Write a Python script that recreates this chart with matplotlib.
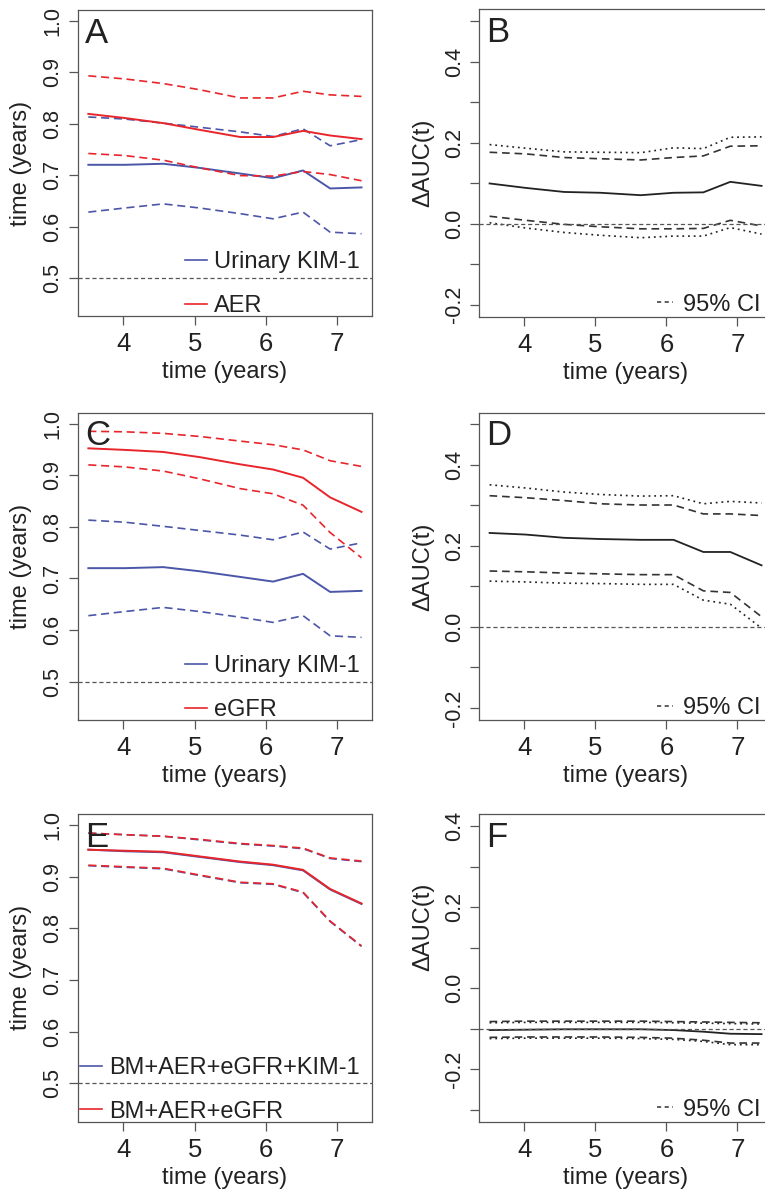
"""time-dependent AUC curves, biomarkers vs KIM-1"""

import matplotlib
matplotlib.use("Agg")
from matplotlib import pyplot as plt
from matplotlib.lines import Line2D

plt.rcParams['font.family'] = ['Liberation Sans', 'DejaVu Sans']
plt.rcParams['lines.scale_dashes'] = False

# tiempos de evaluacion (anios)
t = [3.51, 4.02, 4.56, 5.07, 5.64, 6.10, 6.52, 6.90, 7.34]

# AUC(t) de cada marcador con su IC 95%
kim1_auc = [0.720, 0.720, 0.722, 0.714, 0.703, 0.694, 0.709, 0.674, 0.676]
kim1_hi = [0.813, 0.809, 0.801, 0.793, 0.784, 0.775, 0.790, 0.757, 0.769]
kim1_lo = [0.628, 0.636, 0.644, 0.636, 0.625, 0.615, 0.628, 0.589, 0.586]

aer_auc = [0.819, 0.811, 0.801, 0.788, 0.774, 0.774, 0.786, 0.777, 0.770]
aer_hi = [0.893, 0.887, 0.878, 0.866, 0.850, 0.850, 0.863, 0.856, 0.853]
aer_lo = [0.742, 0.738, 0.729, 0.714, 0.699, 0.698, 0.707, 0.701, 0.689]

egfr_auc = [0.952, 0.949, 0.945, 0.935, 0.921, 0.911, 0.895, 0.857, 0.829]
egfr_hi = [0.985, 0.984, 0.981, 0.975, 0.966, 0.959, 0.949, 0.928, 0.917]
egfr_lo = [0.920, 0.916, 0.908, 0.893, 0.874, 0.864, 0.842, 0.789, 0.740]

full_auc = [0.952, 0.949, 0.947, 0.938, 0.928, 0.922, 0.912, 0.875, 0.847]
full_hi = [0.984, 0.981, 0.978, 0.971, 0.963, 0.959, 0.954, 0.935, 0.929]
full_lo = [0.921, 0.918, 0.915, 0.902, 0.888, 0.885, 0.869, 0.813, 0.765]

base_auc = [0.952, 0.950, 0.948, 0.939, 0.929, 0.923, 0.913, 0.876, 0.848]
base_hi = [0.984, 0.981, 0.978, 0.972, 0.964, 0.960, 0.955, 0.936, 0.930]
base_lo = [0.922, 0.919, 0.916, 0.903, 0.889, 0.886, 0.870, 0.814, 0.766]

# diferencias de AUC: IC puntual (guiones) y banda (puntos)
dB = [0.099, 0.088, 0.078, 0.076, 0.070, 0.076, 0.077, 0.103, 0.093]
dB_ci_hi = [0.176, 0.172, 0.163, 0.160, 0.157, 0.163, 0.167, 0.191, 0.192]
dB_ci_lo = [0.018, 0.008, -0.002, -0.008, -0.013, -0.013, -0.012, 0.008, -0.006]
dB_band_hi = [0.195, 0.186, 0.177, 0.176, 0.175, 0.187, 0.185, 0.213, 0.214]
dB_band_lo = [0.002, -0.011, -0.022, -0.029, -0.035, -0.031, -0.031, -0.010, -0.026]

dD = [0.232, 0.228, 0.220, 0.217, 0.215, 0.215, 0.185, 0.185, 0.152]
dD_ci_hi = [0.324, 0.319, 0.312, 0.304, 0.301, 0.301, 0.279, 0.279, 0.275]
dD_ci_lo = [0.138, 0.136, 0.133, 0.131, 0.129, 0.129, 0.089, 0.085, 0.025]
dD_band_hi = [0.351, 0.343, 0.333, 0.327, 0.323, 0.324, 0.304, 0.310, 0.306]
dD_band_lo = [0.113, 0.111, 0.108, 0.107, 0.105, 0.105, 0.066, 0.056, -0.003]

dF = [-0.103, -0.102, -0.101, -0.101, -0.101, -0.103, -0.107, -0.112, -0.113]
dF_ci_hi = [-0.082, -0.081, -0.081, -0.081, -0.081, -0.082, -0.083, -0.084, -0.085]
dF_ci_lo = [-0.121, -0.120, -0.120, -0.120, -0.121, -0.123, -0.128, -0.135, -0.135]
dF_band_hi = [-0.085, -0.084, -0.084, -0.084, -0.084, -0.085, -0.086, -0.087, -0.088]
dF_band_lo = [-0.124, -0.123, -0.123, -0.123, -0.124, -0.126, -0.131, -0.139, -0.139]

AZUL = '#4b56a8'
ROJO = '#e8252b'
GRIS = '#555555'
TXT = '#222222'
FS = 17
DASH = (0, (5.8, 3.4))
DOT = (0, (1.3, 2.8))

W, H = 765, 1189
fig = plt.figure(figsize=(W / 100, H / 100), dpi=100)


def crearEje(x0, x1, y0, y1):
    # posicion en pixeles -> fraccion de la figura
    return fig.add_axes([x0 / W, 1 - y1 / H, (x1 - x0) / W, (y1 - y0) / H])


def estiloEje(ax, letra, ylabel, yticks, ylabels, ylab_y=0.5):
    ax.set_xlim(3.365, 7.487)
    ax.set_xticks([4, 5, 6, 7])
    ax.set_yticks(yticks)
    ax.set_yticklabels(ylabels, rotation=90, va='center')
    ax.tick_params(axis='both', colors=GRIS, labelcolor=TXT,
                   length=6.5, width=0.9)
    ax.tick_params(axis='x', pad=5, labelsize=18.5)
    ax.tick_params(axis='y', pad=4, labelsize=15.5)
    for s in ax.spines.values():
        s.set_color(GRIS)
        s.set_linewidth(0.9)
    ax.set_xlabel("time (years)", fontsize=FS, color=TXT)
    ax.set_ylabel(ylabel, fontsize=FS, color=TXT)
    ax.xaxis.set_label_coords(0.5, -0.148)
    ax.yaxis.set_label_coords(-0.155, ylab_y)
    ax.text(0.025, 0.978, letra, transform=ax.transAxes, fontsize=25,
            color=TXT, va='top', ha='left')


def panelAUC(ax, letra, series, nombres):
    colores = [AZUL, ROJO]
    for (auc, lo, hi), col in zip(series, colores):
        ax.plot(t, hi, color=col, lw=1.2, ls=DASH)
        ax.plot(t, lo, color=col, lw=1.2, ls=DASH)
        ax.plot(t, auc, color=col, lw=1.4)
    ax.axhline(0.5, color=GRIS, lw=0.9, ls=(0, (3, 2)))
    ax.set_ylim(0.426, 1.021)
    yt = [0.5, 0.6, 0.7, 0.8, 0.9, 1.0]
    estiloEje(ax, letra, "time (years)", yt, ["%.1f" % v for v in yt])
    handles = [Line2D([], [], color=c, lw=1.2) for c in colores]
    ax.legend(handles, nombres, loc='lower right', bbox_to_anchor=(0.975, -0.018),
              frameon=False, fontsize=FS, handlelength=0.95, handletextpad=0.3,
              labelspacing=0.92, borderaxespad=0, borderpad=0.2,
              labelcolor=TXT)


def panelDelta(ax, letra, d, ci_lo, ci_hi, b_lo, b_hi, ref, ylim, yt, ylab,
               ylab_y=0.5):
    ax.plot(t, b_hi, color='#222222', lw=1.2, ls=DOT)
    ax.plot(t, b_lo, color='#222222', lw=1.2, ls=DOT)
    ax.plot(t, ci_hi, color='#333333', lw=1.2, ls=(0, (5.5, 3.5)))
    ax.plot(t, ci_lo, color='#333333', lw=1.2, ls=(0, (5.5, 3.5)))
    ax.plot(t, d, color='#222222', lw=1.3)
    ax.axhline(ref, color=GRIS, lw=0.9, ls=(0, (3, 2)))
    ax.set_ylim(*ylim)
    labs = [("%.1f" % v if round(v * 10) % 2 == 0 else "") for v in yt]
    estiloEje(ax, letra, ylab, yt, labs, ylab_y)
    h = Line2D([], [], color='#333333', lw=1.1, ls=(0, (3, 2.5)))
    ax.legend([h], ["95% CI"], loc='lower right', bbox_to_anchor=(0.978, -0.012),
              frameon=False, fontsize=FS, handlelength=0.65, handletextpad=0.45,
              borderaxespad=0, borderpad=0.2, labelcolor=TXT)


axA = crearEje(78, 372, 10, 316)
axB = crearEje(479.3, 772, 9.3, 316.7)
axC = crearEje(78, 372, 412.7, 720)
axD = crearEje(479.3, 772, 412.7, 720)
axE = crearEje(78, 372, 814, 1121.7)
axF = crearEje(479.3, 772, 814, 1121.7)

panelAUC(axA, "A", [(kim1_auc, kim1_lo, kim1_hi), (aer_auc, aer_lo, aer_hi)],
         ["Urinary KIM-1", "AER"])
panelAUC(axC, "C", [(kim1_auc, kim1_lo, kim1_hi), (egfr_auc, egfr_lo, egfr_hi)],
         ["Urinary KIM-1", "eGFR"])
panelAUC(axE, "E", [(full_auc, full_lo, full_hi), (base_auc, base_lo, base_hi)],
         ["BM+AER+eGFR+KIM-1", "BM+AER+eGFR"])

ytB = [-0.2, -0.1, 0.0, 0.1, 0.2, 0.3, 0.4, 0.5]
ytF = [-0.3, -0.2, -0.1, 0.0, 0.1, 0.2, 0.3, 0.4]
panelDelta(axB, "B", dB, dB_ci_lo, dB_ci_hi, dB_band_lo, dB_band_hi, 0.0,
           (-0.23, 0.529), ytB, "ΔAUC(t)")
panelDelta(axD, "D", dD, dD_ci_lo, dD_ci_hi, dD_band_lo, dD_band_hi, 0.0,
           (-0.23, 0.529), ytB, "ΔAUC(t)")
# en F la etiqueta queda mas arriba, como en el original
panelDelta(axF, "F", dF, dF_ci_lo, dF_ci_hi, dF_band_lo, dF_band_hi, -0.1,
           (-0.329, 0.43), ytF, "ΔAUC(t)", ylab_y=0.633)

plt.savefig("out.png", dpi=100)
